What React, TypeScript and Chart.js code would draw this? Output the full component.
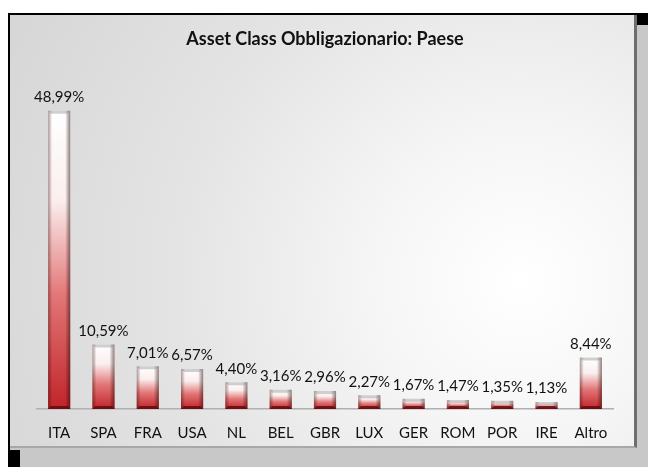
import React, { useEffect, useRef } from "react";
import { Chart, registerables } from "chart.js";

Chart.register(...registerables);

const TITLE = "Asset Class Obbligazionario: Paese";
const categories = ["ITA", "SPA", "FRA", "USA", "NL", "BEL", "GBR", "LUX", "GER", "ROM", "POR", "IRE", "Altro"];
const values = [48.99, 10.59, 7.01, 6.57, 4.4, 3.16, 2.96, 2.27, 1.67, 1.47, 1.35, 1.13, 8.44];
const valueLabels = ["48,99%", "10,59%", "7,01%", "6,57%", "4,40%", "3,16%", "2,96%", "2,27%", "1,67%", "1,47%", "1,35%", "1,13%", "8,44%"];

const FONT = "Lato, 'Open Sans', sans-serif";

const barStyler = {
  id: "barStyler",
  afterDatasetsDraw(chart: any) {
    const ctx = chart.ctx;
    const meta = chart.getDatasetMeta(0);
    ctx.save();
    meta.data.forEach((el: any, i: number) => {
      const { x, y, base, width } = el.getProps(["x", "y", "base", "width"], true);
      const l = x - width / 2;
      const r = x + width / 2;
      const h = base - y;
      const rg = ctx.createLinearGradient(r - 5, 0, r, 0);
      rg.addColorStop(0, "rgba(0,0,0,0)");
      rg.addColorStop(1, "rgba(40,0,0,0.5)");
      ctx.fillStyle = rg;
      ctx.fillRect(r - 5, y, 5, h);
      const lg = ctx.createLinearGradient(l, 0, l + 4, 0);
      lg.addColorStop(0, "rgba(60,0,0,0.4)");
      lg.addColorStop(1, "rgba(0,0,0,0)");
      ctx.fillStyle = lg;
      ctx.fillRect(l, y, 4, h);
      ctx.fillStyle = "rgba(120,120,120,0.35)";
      ctx.beginPath();
      ctx.moveTo(l, y);
      ctx.lineTo(r, y);
      ctx.lineTo(r - 3, y + 3);
      ctx.lineTo(l + 3, y + 3);
      ctx.closePath();
      ctx.fill();
      ctx.fillStyle = "rgba(90,10,10,0.8)";
      ctx.beginPath();
      ctx.moveTo(l, base);
      ctx.lineTo(r, base);
      ctx.lineTo(r - 3, base - 3);
      ctx.lineTo(l + 3, base - 3);
      ctx.closePath();
      ctx.fill();
      ctx.fillStyle = "#111";
      ctx.font = "15px " + FONT;
      ctx.textAlign = "center";
      ctx.textBaseline = "bottom";
      ctx.fillText(valueLabels[i], x, y - 6);
    });
    ctx.restore();
  },
};

export default function App() {
  const ref = useRef<HTMLCanvasElement>(null);
  useEffect(() => {
    if (!ref.current) return;
    const chart = new Chart(ref.current, {
      type: "bar",
      data: {
        labels: categories,
        datasets: [
          {
            data: values,
            backgroundColor: (c: any) => {
              const ch = c.chart;
              if (!ch.chartArea || c.raw === undefined) return "#c83c3c";
              const top = ch.scales.y.getPixelForValue(c.raw);
              const bottom = ch.scales.y.getPixelForValue(0);
              const g = ch.ctx.createLinearGradient(0, top, 0, bottom);
              g.addColorStop(0, "#ffffff");
              g.addColorStop(0.3, "#fbeeee");
              g.addColorStop(0.62, "#e27676");
              g.addColorStop(1, "#c0242a");
              return g;
            },
            borderWidth: 0,
            categoryPercentage: 1,
            barPercentage: 0.5,
          },
        ],
      },
      options: {
        responsive: false,
        animation: false,
        layout: { padding: { left: 37, right: 35, top: 0, bottom: 18 } },
        plugins: {
          legend: { display: false },
          tooltip: { enabled: false },
          title: {
            display: true,
            text: TITLE,
            color: "#111",
            font: { family: FONT, size: 18, weight: "bold" },
            padding: { top: 28, bottom: 55 },
          },
        },
        scales: {
          x: {
            grid: { display: false },
            border: { display: true, color: "#b0b0b0", width: 1.5 },
            ticks: { color: "#111", font: { family: FONT, size: 15 }, padding: 7 },
          },
          y: { display: false, min: 0, max: 50 },
        },
      },
      plugins: [barStyler],
    });
    return () => chart.destroy();
  }, []);

  return (
    <div style={{ position: "fixed", left: 0, top: 0, width: 648, height: 467, background: "#fff", overflow: "hidden" }}>
      <div style={{ position: "absolute", left: 8, top: 13, right: 0, bottom: 0, background: "#c8c8c8", borderTop: "2px solid #000", borderLeft: "2px solid #000" }} />
      <div style={{ position: "absolute", left: 636, top: 13, width: 12, height: 12, background: "#000" }} />
      <div style={{ position: "absolute", left: 10, top: 450, width: 10, height: 17, background: "#000" }} />
      <div
        style={{
          position: "absolute",
          left: 10,
          top: 15,
          width: 624,
          height: 431,
          background: "radial-gradient(circle at 82% 62%, #ffffff 0%, #f6f6f6 25%, #e4e4e4 60%, #d6d6d6 100%)",
          borderRight: "3px solid #6e6e6e",
          borderBottom: "2px solid #a8a8a8",
        }}
      />
      <canvas ref={ref} width={648} height={467} style={{ position: "absolute", left: 0, top: 0 }} />
    </div>
  );
}
